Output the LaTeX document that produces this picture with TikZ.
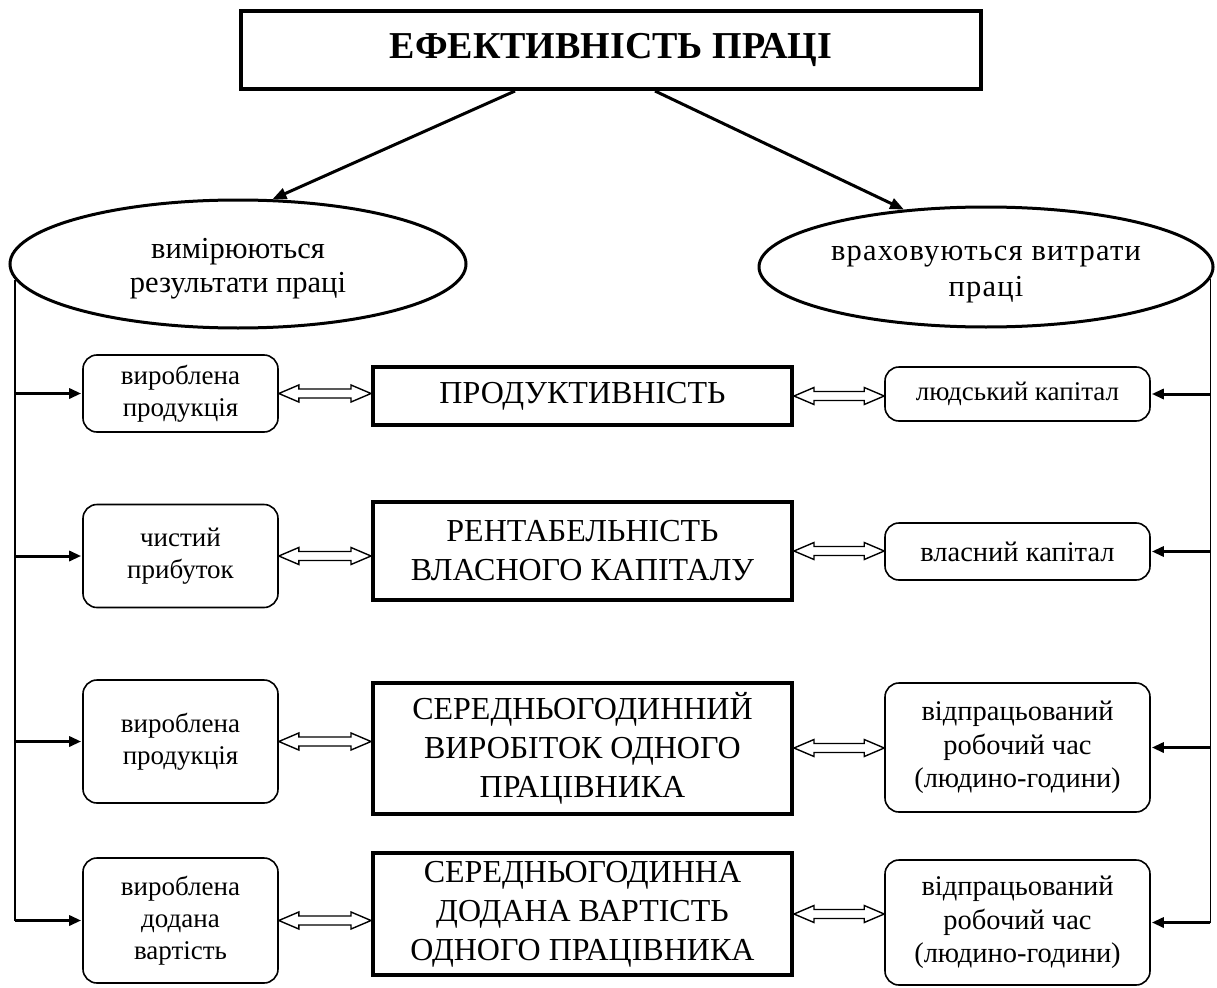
\documentclass[tikz,border=0pt]{standalone}
\usepackage{fontspec}
\setmainfont{Liberation Serif}
\usetikzlibrary{shapes.geometric,arrows.meta,calc}

% hollow two-headed arrow drawn between two points at the first point's height
\newcommand{\twinarrow}[2]{%
  \draw[hollowarrow] let \p1=(#1), \p2=(#2) in
    (\x1,\y1) -- (\x1+20pt,\y1+8.5pt) -- (\x1+20pt,\y1+4.5pt)
    -- (\x2-20pt,\y1+4.5pt) -- (\x2-20pt,\y1+8.5pt) -- (\x2,\y1)
    -- (\x2-20pt,\y1-8.5pt) -- (\x2-20pt,\y1-4.5pt)
    -- (\x1+20pt,\y1-4.5pt) -- (\x1+20pt,\y1-8.5pt) -- cycle;}

\tikzset{
  titlebox/.style={draw, line width=4pt, minimum width=740pt, minimum height=78pt,
    inner sep=0pt, font=\fontsize{38}{44}\selectfont\bfseries},
  oval/.style={draw, ellipse, line width=3pt, inner sep=0pt, align=center,
    font=\fontsize{30.5}{34}\selectfont},
  mainbox/.style={draw, line width=4pt, minimum width=419pt, inner sep=0pt,
    align=center, font=\fontsize{32}{39}\selectfont},
  sidebox/.style={draw, rounded corners=14pt, line width=1.6pt, inner sep=0pt,
    align=center, font=\fontsize{27}{32}\selectfont},
  costbox/.style={sidebox, font=\fontsize{28.5}{33.5}\selectfont},
  hollowarrow/.style={draw, line width=1.4pt, fill=white, line join=miter},
  feed/.style={line width=3pt, -{Triangle[length=14pt,width=11pt]}},
  spine/.style={line width=1.6pt},
  tie/.style={line width=3pt, -{Triangle[length=12pt,width=10pt]}, shorten >=1pt},
}

\begin{document}
\begin{tikzpicture}[x=1pt, y=-1pt]
\useasboundingbox (0,0) rectangle (1217,987);

% title
\node[titlebox] (top) at (611,50) {ЕФЕКТИВНІСТЬ ПРАЦІ};

% the two approaches
\node[oval, minimum width=456pt, minimum height=128pt] (le) at (238,264)
  {\rule{0pt}{30pt}вимірюються\\результати праці};
\node[oval, minimum width=454pt, minimum height=120pt,
  font=\fontsize{30.5}{36}\selectfont\addfontfeature{LetterSpace=4}] (re) at (986,267)
  {\rule{0pt}{30pt}враховуються витрати\\праці};

\draw[feed] ($(top.south)+(-96,0)$) -- (le.62);
\draw[feed] ($(top.south)+(44,0)$) -- (re.145);

% indicators
\node[mainbox, minimum height=58pt]  (c1) at (582.5,396) {ПРОДУКТИВНІСТЬ};
\node[mainbox, minimum height=98pt]  (c2) at (582.5,551) {РЕНТАБЕЛЬНІСТЬ\\ВЛАСНОГО КАПІТАЛУ};
\node[mainbox, minimum height=131pt] (c3) at (582.5,748) {СЕРЕДНЬОГОДИННИЙ\\ВИРОБІТОК ОДНОГО\\ПРАЦІВНИКА};
\node[mainbox, minimum height=122pt] (c4) at (582.5,914) {СЕРЕДНЬОГОДИННА\\ДОДАНА ВАРТІСТЬ\\ОДНОГО ПРАЦІВНИКА};

% results (left)
\node[sidebox, minimum width=195pt, minimum height=77pt]  (l1) at (180.5,393.5) {вироблена\\продукція};
\node[sidebox, minimum width=195pt, minimum height=103pt] (l2) at (180.5,556) {чистий\\прибуток};
\node[sidebox, minimum width=195pt, minimum height=123pt] (l3) at (180.5,741.5) {вироблена\\продукція};
\node[sidebox, minimum width=195pt, minimum height=125pt] (l4) at (180.5,920.5) {вироблена\\додана\\вартість};

% costs (right)
\node[sidebox, minimum width=265pt, minimum height=54pt]  (r1) at (1017.5,394) {людський капітал};
\node[costbox, minimum width=265pt, minimum height=57pt]  (r2) at (1017.5,551.5) {власний капітал};
\node[costbox, minimum width=265pt, minimum height=129pt] (r3) at (1017.5,747.5) {відпрацьований\\робочий час\\(людино-години)};
\node[costbox, minimum width=265pt, minimum height=125pt] (r4) at (1017.5,922.5) {відпрацьований\\робочий час\\(людино-години)};

% two-way links
\foreach \i in {1,...,4} {
  \twinarrow{l\i.east}{c\i.west}
  \twinarrow{c\i.east}{r\i.west}
}

% left spine
\coordinate (ls) at (le.184);
\draw[spine] (ls) -- (ls |- l4.west);
\foreach \i in {1,...,4} \draw[tie] (ls |- l\i.west) -- (l\i.west);

% right spine
\coordinate (rs) at (re.-3);
\draw[spine] (rs) -- (rs |- r4.east);
\foreach \i in {1,...,4} \draw[tie] (rs |- r\i.east) -- (r\i.east);
\end{tikzpicture}
\end{document}
